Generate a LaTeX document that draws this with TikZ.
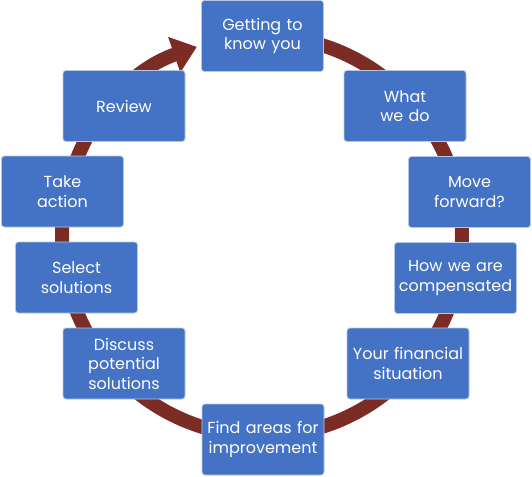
\documentclass[tikz,border=0pt]{standalone}
\usepackage{fontspec}
\setmainfont{Poppins}
\usetikzlibrary{arrows.meta}
\definecolor{boxblue}{HTML}{4472C4}
\definecolor{arcred}{HTML}{7B2C24}
\begin{document}
\begin{tikzpicture}[x=1pt,y=-1pt,
  stagebox/.style={draw=white!60!boxblue,line width=0.8pt,fill=boxblue,rounded corners=3pt,
    minimum width=122pt,minimum height=71pt,text width=120pt,align=center,inner sep=0pt,
    text=white,font=\fontsize{16}{19.5}\selectfont},
  cyclearrow/.style={draw=arcred,line width=14pt,-{Triangle[length=24pt,width=36pt]}}]
\useasboundingbox (0,0) rectangle (532,476);
\coordinate (C) at (262,236);
\draw[cyclearrow] (C) ++(-90:200) arc[start angle=-90,end angle=251,radius=200];
\node[stagebox] (s1) at (262.5,36) {Getting to\\know you};
\node[stagebox] (s2) at (405,106) {What\\we do};
\node[stagebox] (s3) at (469.5,192) {Move\\forward?};
\node[stagebox] (s4) at (455.5,278) {How we are\\compensated};
\node[stagebox] (s5) at (408,363.5) {Your financial\\situation};
\node[stagebox] (s6) at (263,439.5) {Find areas for\\improvement};
\node[stagebox] (s7) at (124,363.5) {Discuss\\potential\\solutions};
\node[stagebox] (s8) at (76.5,277.5) {Select\\solutions};
\node[stagebox] (s9) at (62.5,191.5) {Take\\action};
\node[stagebox] (s10) at (124,106) {Review};
\end{tikzpicture}
\end{document}
